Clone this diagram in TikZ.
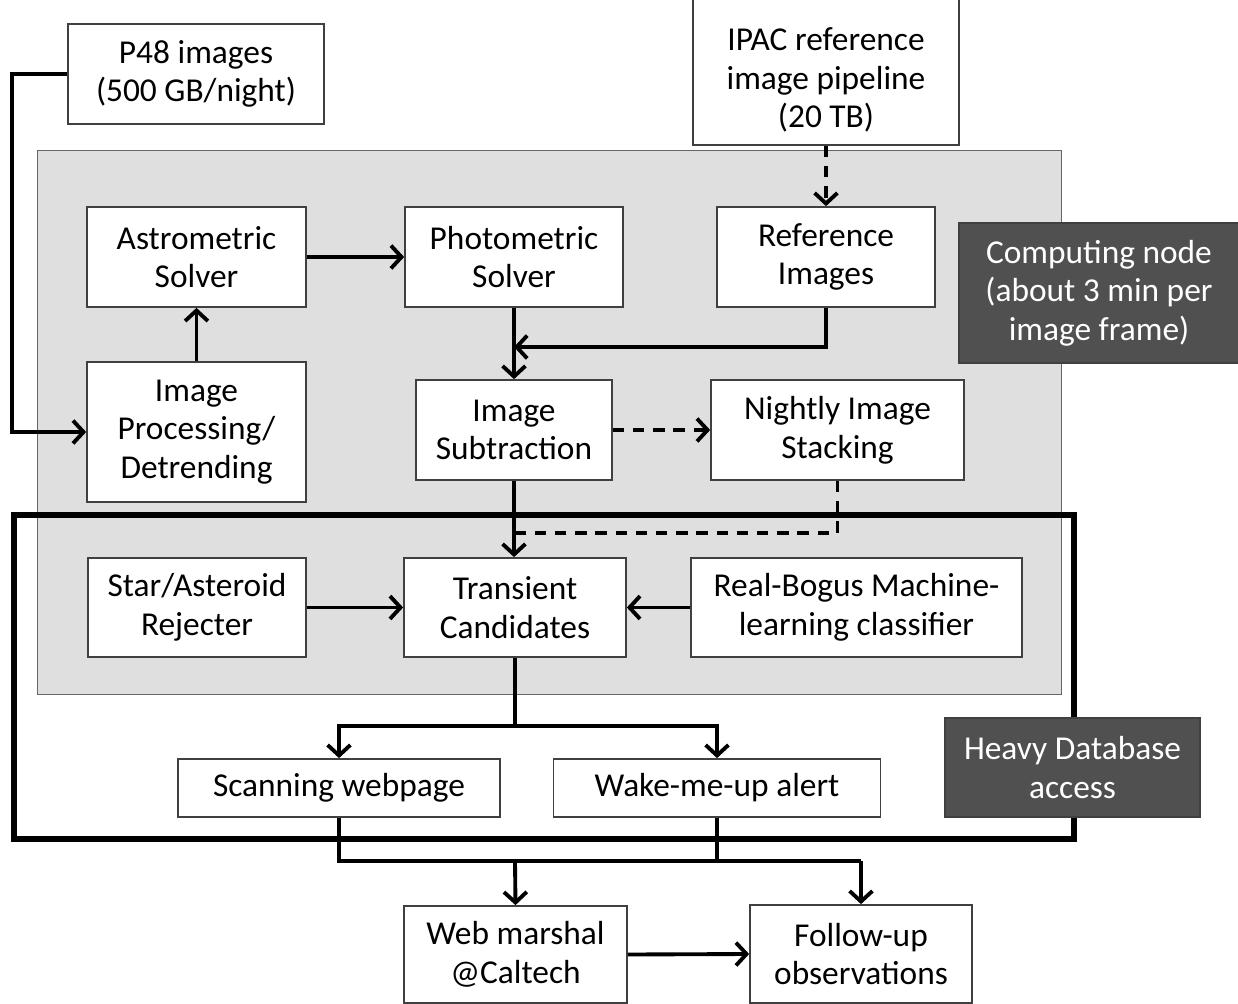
\documentclass[tikz,border=0pt]{standalone}
\usepackage{fontspec}
\setmainfont{Carlito}
\usetikzlibrary{arrows.meta}
\definecolor{panelgray}{HTML}{DFDFDF}
\definecolor{notefill}{HTML}{505050}

\begin{document}
\begin{tikzpicture}[x=0.02cm,y=-0.02cm,
  font=\fontsize{19}{22}\selectfont,
  box/.style={draw=black!75,line width=1pt,fill=white,align=center,inner sep=2pt},
  notebox/.style={box,fill=notefill,text=white},
  link/.style={line width=2.2pt},
  arr/.style={link,-{Straight Barb[length=6pt,width=13pt]}},
  dashlink/.style={dash pattern=on 6.5pt off 5pt}]
  \useasboundingbox (0,0) rectangle (1238,1004);

  % computing node panel and database frame
  \draw[draw=black!60,fill=panelgray] (37,150) rectangle (1061,694);
  \draw[line width=3.6pt] (14,515) rectangle (1074,839);

  \node[box,minimum width=5.12cm,minimum height=2cm] (p48) at (196,74) {P48 images\\(500 GB/night)};
  \node[box,minimum width=5.32cm,minimum height=2.92cm] (ipac) at (826,72) {\rule{0pt}{22pt}IPAC reference\\image pipeline\\(20 TB)};

  \node[box,minimum width=4.38cm,minimum height=2cm] (astro) at (196.5,257) {Astrometric\\Solver};
  \node[box,minimum width=4.36cm,minimum height=2cm] (photo) at (514,257) {Photometric\\Solver};
  \node[box,minimum width=4.36cm,minimum height=2cm] (refimg) at (826,257) {Reference\\Images};
  \node[box,minimum width=4.38cm,minimum height=2.8cm] (improc) at (196.5,432) {Image\\Processing/\\Detrending};
  \node[box,minimum width=3.92cm,minimum height=2cm] (sub) at (514,430) {Image\\Subtraction};
  \node[box,minimum width=5.06cm,minimum height=2cm] (stack) at (837.5,430) {Nightly Image\\Stacking};

  \node[box,minimum width=4.36cm,minimum height=1.98cm] (star) at (197,607.5) {Star/Asteroid\\Rejecter};
  \node[box,minimum width=4.44cm,minimum height=1.98cm] (trans) at (515,607.5) {Transient\\Candidates};
  \node[box,minimum width=6.62cm,minimum height=1.98cm] (rb) at (856.5,607.5) {Real-Bogus Machine-\\learning classifier};

  \node[box,minimum width=6.44cm,minimum height=1.16cm] (scan) at (339,788) {Scanning webpage};
  \node[box,minimum width=6.54cm,minimum height=1.16cm] (wake) at (717,788) {Wake-me-up alert};

  \node[box,minimum width=4.46cm,minimum height=1.94cm] (web) at (515.5,954.5) {Web marshal\\@Caltech};
  \node[box,minimum width=4.44cm,minimum height=1.96cm] (follow) at (861,954) {Follow-up\\observations};

  \node[notebox,minimum width=5.6cm,minimum height=2.8cm] (comp) at (1099,293) {Computing node\\(about 3 min per\\image frame)};
  \node[notebox,minimum width=5.1cm,minimum height=1.98cm] (heavy) at (1072.5,767.5) {Heavy Database\\access};

  \coordinate (mrg) at (514,347);
  \coordinate (dj) at (514,533);
  \coordinate (br) at (515,726);
  \coordinate (jn) at (515,861);

  \draw[arr] (p48.west) -- ++(-55,0) |- (improc.west);
  \draw[arr] (improc.north) -- (astro.south);
  \draw[arr] (astro.east) -- (photo.west);
  \draw[arr,dashlink] (ipac.south) -- (refimg.north);
  \draw[arr] (refimg.south) |- (mrg);
  \draw[arr] (photo.south) -- (sub.north);
  \draw[arr,dashlink] (sub.east) -- (stack.west);
  \draw[arr] (sub.south) -- (sub.south |- trans.north);
  \draw[link,dashlink] (stack.south) |- (dj);
  \draw[arr] (star.east) -- (trans.west);
  \draw[arr] (rb.west) -- (trans.east);
  \draw[link] (trans.south) -- (br);
  \draw[arr] (br) -| (scan.north);
  \draw[arr] (br) -| (wake.north);
  \draw[link] (scan.south) |- (follow.north |- jn);
  \draw[link] (wake.south) -- (wake.south |- jn);
  \draw[arr] (jn) -- (web.north);
  \draw[arr] (follow.north |- jn) -- (follow.north);
  \draw[arr] (web.east) -- (follow.west);
\end{tikzpicture}
\end{document}
